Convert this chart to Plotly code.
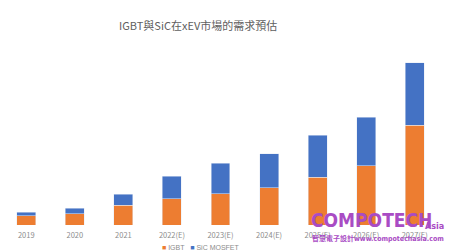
import plotly.graph_objects as go

categories = ["2019", "2020", "2021", "2022(E)", "2023(E)", "2024(E)", "2025(E)", "2026(E)", "2027(E)"]
igbt = [9.3, 11.3, 20, 26.3, 31.3, 37.3, 47.7, 59.3, 100]
sic_mosfet = [3.4, 5.7, 11, 22.7, 30.3, 34, 42.3, 48.7, 62.3]
series_names = ["IGBT", "SiC MOSFET"]
series_colors = ["#ED7D31", "#4472C4"]

title_text = "IGBT與SiC在xEV市場的需求預估"

fig = go.Figure()
for name, vals, col in zip(series_names, [igbt, sic_mosfet], series_colors):
    fig.add_trace(go.Bar(x=categories, y=vals, name=name, marker_color=col, showlegend=False))

fig.update_layout(
    width=450, height=250,
    barmode="stack", bargap=0.61,
    margin=dict(l=2, r=11, t=50, b=25, autoexpand=False),
    paper_bgcolor="white", plot_bgcolor="white",
    font=dict(family="Noto Sans CJK TC, Liberation Sans, sans-serif", color="#8c8c8c", size=8),
    showlegend=False,
    xaxis=dict(showgrid=False, showline=False, ticks="", ticklabelstandoff=4,
               tickfont=dict(size=7.5, color="#8c8c8c")),
    yaxis=dict(visible=False, range=[0, 175]),
)

fig.add_annotation(text=title_text, xref="paper", yref="paper", x=0.448, y=1.143, yanchor="middle",
                   showarrow=False, font=dict(size=11, color="#606060",
                                              family="Noto Sans CJK TC, Liberation Sans, sans-serif"))

# legend (text-based, compact like the reference)
legend_text = "   ".join(
    f"<span style='color:{c}'>■</span> {n}" for n, c in zip(series_names, series_colors))
fig.add_annotation(text=legend_text, xref="paper", yref="paper", x=0.455, y=-0.13, yanchor="middle",
                   showarrow=False, font=dict(size=7, color="#8c8c8c",
                                              family="Liberation Sans, sans-serif"))

# watermark
wm_color = "#a94cc4"
fig.add_annotation(text="<b>COMPOTECH</b>", xref="paper", yref="paper", x=0.703, y=-0.045,
                   xanchor="left", yanchor="bottom", showarrow=False,
                   font=dict(size=19, color=wm_color, family="DejaVu Sans Condensed, Liberation Sans"))
fig.add_annotation(text="<b>Asia</b>", xref="paper", yref="paper", x=0.963, y=-0.045,
                   xanchor="left", yanchor="bottom", showarrow=False,
                   font=dict(size=9, color=wm_color, family="DejaVu Sans Condensed, Liberation Sans"))
fig.add_annotation(text="<b><span style='font-size:7px'>智慧電子設計</span>www.compotechasia.com</b>",
                   xref="paper", yref="paper", x=0.705, y=-0.075,
                   xanchor="left", yanchor="middle", showarrow=False,
                   font=dict(size=7, color=wm_color, family="DejaVu Sans Condensed, Noto Sans CJK TC"))

fig.write_html("out.html")
